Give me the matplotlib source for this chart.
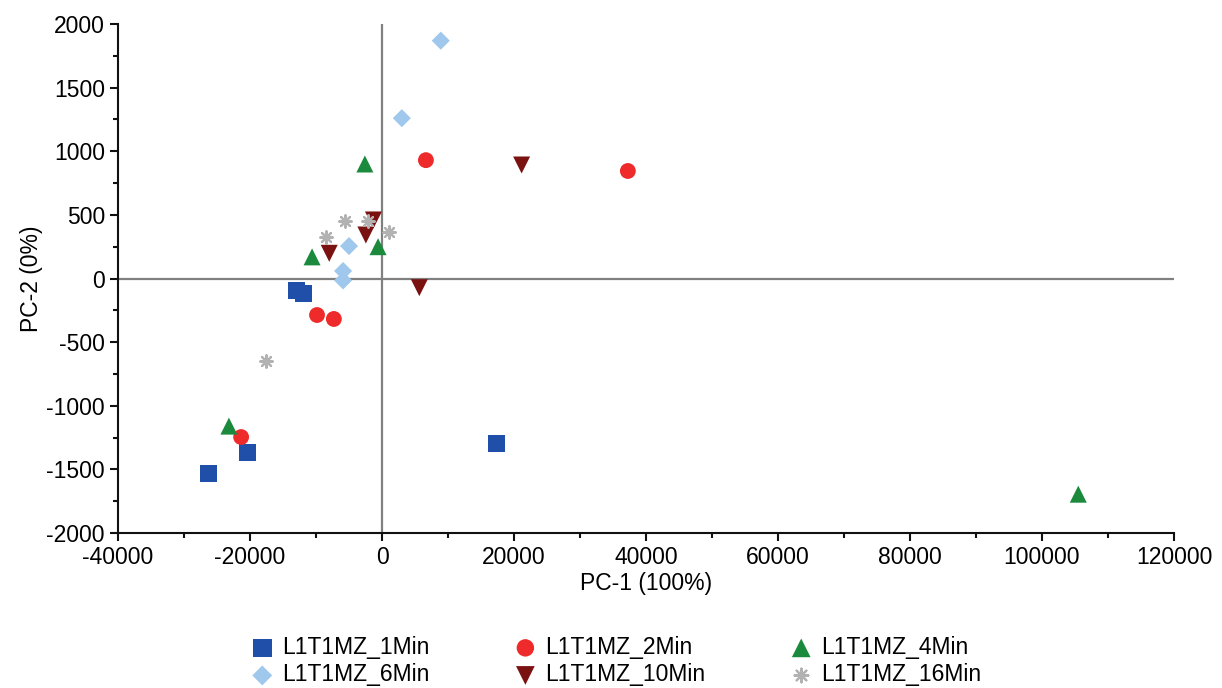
import matplotlib
matplotlib.use("Agg")
import matplotlib.pyplot as plt
from matplotlib.ticker import MultipleLocator

plt.rcParams['font.family'] = ['Liberation Sans', 'DejaVu Sans']
plt.rcParams['axes.unicode_minus'] = False

labels = ["L1T1MZ_1Min", "L1T1MZ_2Min", "L1T1MZ_4Min",
          "L1T1MZ_6Min", "L1T1MZ_10Min", "L1T1MZ_16Min"]

x_1min = [-12900, -11950, -20450, -26350, 17400]
y_1min = [-98, -114, -1370, -1535, -1300]

x_2min = [6650, 37250, -9850, -7300, -21350]
y_2min = [930, 845, -287, -318, -1246]

x_4min = [-2600, -10600, -600, -23200, 105500]
y_4min = [900, 170, 250, -1160, -1695]

x_6min = [8900, 3000, -5000, -5900, -5900]
y_6min = [1869, 1260, 255, 59, -15]

x_10min = [21150, 5650, -1300, -2450, -8000]
y_10min = [892, -72, 460, 342, 198]

x_16min = [-5600, -2100, -8550, 1050, -17600]
y_16min = [452, 452, 329, 363, -648]

series = [
    (x_1min, y_1min, 's', '#1f4fa8', 150),
    (x_2min, y_2min, 'o', '#ee2a2a', 130),
    (x_4min, y_4min, '^', '#1b8a3c', 150),
    (x_6min, y_6min, 'D', '#9fc8ec', 85),
    (x_10min, y_10min, 'v', '#7b1212', 150),
    (x_16min, y_16min, (8, 2, 0), '#b2b2b2', 80),
]

fig = plt.figure(figsize=(12.22, 6.88), dpi=100)
ax = fig.add_axes([0.0966, 0.2253, 0.8641, 0.7398])

ax.axhline(0, color='#808080', lw=1.6, zorder=1)
ax.axvline(0, color='#808080', lw=1.6, zorder=1)

handles = []
for (xs, ys, m, c, s), lab in zip(series, labels):
    if isinstance(m, tuple):
        h = ax.scatter(xs, ys, marker=m, s=s, color=c, linewidths=1.6, label=lab, zorder=3)
    else:
        h = ax.scatter(xs, ys, marker=m, s=s, color=c, edgecolors='none', label=lab, zorder=3)
    handles.append(h)

ax.set_xlim(-40000, 120000)
ax.set_ylim(-2000, 2000)
ax.xaxis.set_major_locator(MultipleLocator(20000))
ax.xaxis.set_minor_locator(MultipleLocator(10000))
ax.yaxis.set_major_locator(MultipleLocator(500))
ax.yaxis.set_minor_locator(MultipleLocator(250))

for sp in ['top', 'right']:
    ax.spines[sp].set_visible(False)
for sp in ['left', 'bottom']:
    ax.spines[sp].set_linewidth(1.5)
    ax.spines[sp].set_color('#111111')

ax.tick_params(which='major', direction='out', length=6, width=1.5, labelsize=16.5, color='#111111')
ax.tick_params(which='minor', direction='out', length=3.8, width=1.5, color='#111111')

ax.set_xlabel("PC-1 (100%)", fontsize=16.5, labelpad=2)
ax.set_ylabel("PC-2 (0%)", fontsize=16.5, labelpad=2)

order = [0, 3, 1, 4, 2, 5]
fig.legend([handles[i] for i in order], [labels[i] for i in order],
           loc='center', bbox_to_anchor=(0.503, 0.039), ncol=3, frameon=False,
           fontsize=16.5, handletextpad=0.25, columnspacing=3.6,
           labelspacing=0.2, handlelength=1.2, markerscale=1.1)

fig.savefig("out.png", dpi=100)
